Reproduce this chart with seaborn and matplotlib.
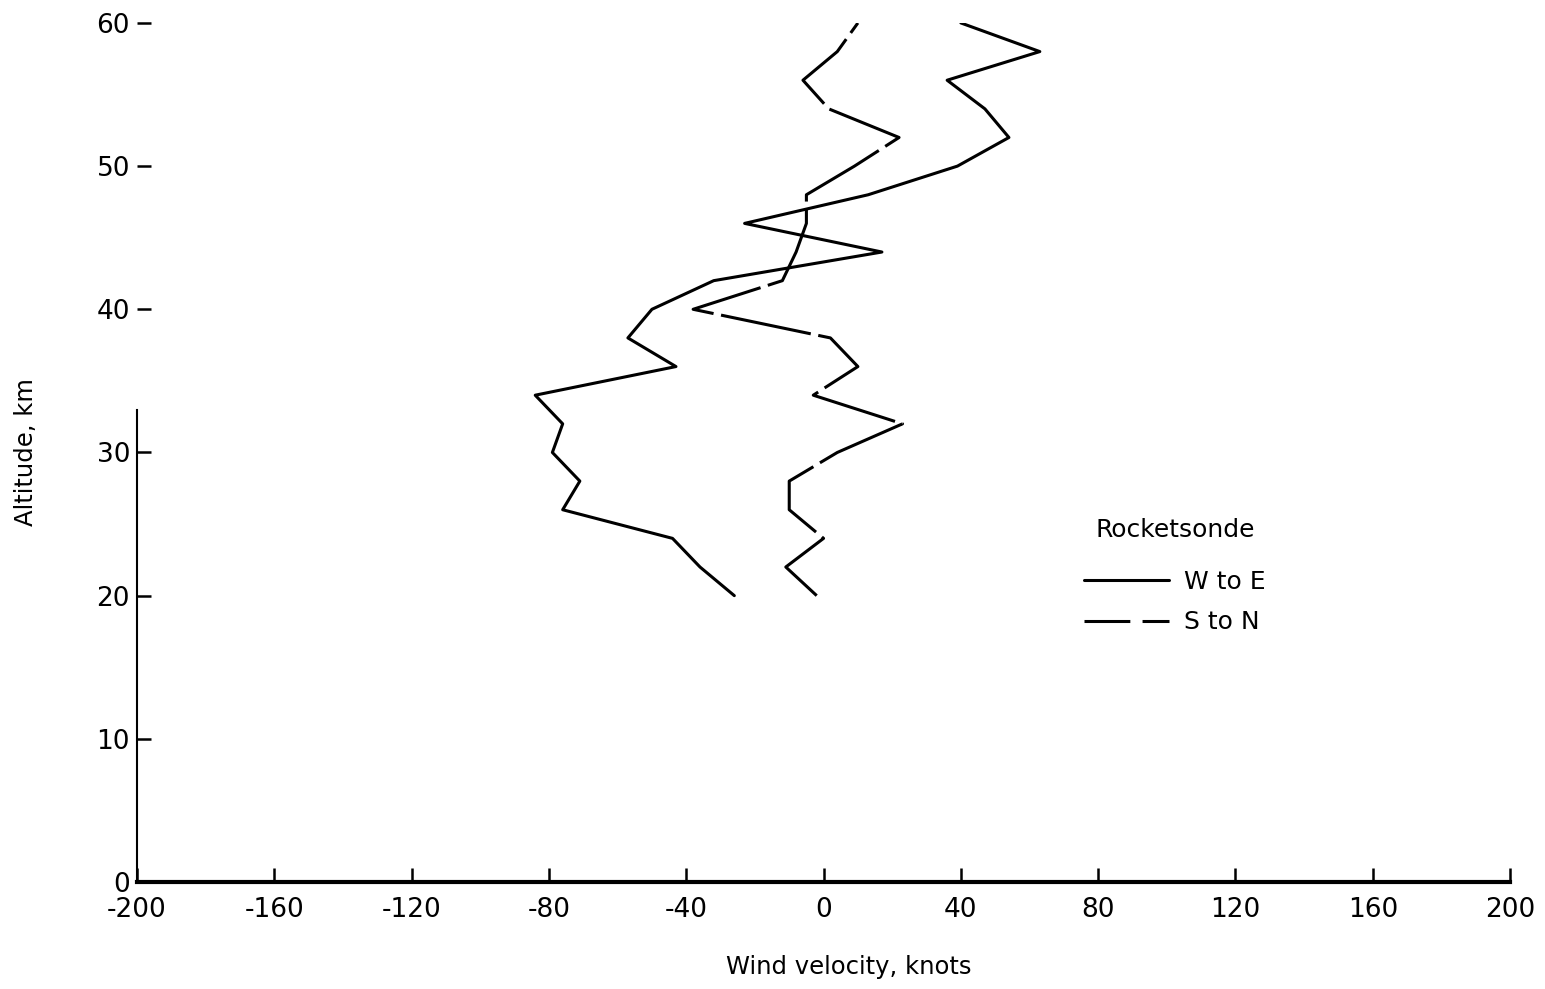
import matplotlib
matplotlib.use("Agg")
import matplotlib.pyplot as plt
from matplotlib.lines import Line2D
import seaborn as sns
import pandas as pd

# Rocketsonde wind profile, altitude every 2 km from 20 to 60 km
altitude_km = [20, 22, 24, 26, 28, 30, 32, 34, 36, 38, 40,
               42, 44, 46, 48, 50, 52, 54, 56, 58, 60]
w_to_e = [-26, -36, -44, -76, -71, -79, -76, -84, -43, -57, -50,
          -32, 17, -23, 13, 39, 54, 47, 36, 63, 40]
s_to_n = [-2, -11, 0, -10, -10, 4, 23, -3, 10, 2, -38,
          -12, -8, -5, -5, 9, 22, 1.5, -6, 4, 10]

series_names = ["W to E", "S to N"]
legend_title = "Rocketsonde"
x_ticks = [-200, -160, -120, -80, -40, 0, 40, 80, 120, 160, 200]
y_ticks = [0, 10, 20, 30, 40, 50, 60]

df = pd.DataFrame({
    "altitude": altitude_km * 2,
    "velocity": w_to_e + s_to_n,
    "component": [series_names[0]] * len(altitude_km) + [series_names[1]] * len(altitude_km),
})

sns.set_theme(style="white")
plt.rcParams["font.family"] = ["DejaVu Sans"]
plt.rcParams["axes.unicode_minus"] = False
plt.rcParams["text.color"] = "black"
plt.rcParams["axes.labelcolor"] = "black"

fig = plt.figure(figsize=(15.45, 9.89), dpi=100)
ax = fig.add_axes([0.0887, 0.1082, 0.8887, 0.8686])

sns.lineplot(
    data=df, x="velocity", y="altitude", hue="component", style="component",
    palette={series_names[0]: "black", series_names[1]: "black"},
    dashes={series_names[0]: "", series_names[1]: (30, 2.5)},
    orient="y", sort=False, estimator=None, linewidth=2.2, legend=False, ax=ax,
)

ax.set_xlim(-200, 200)
ax.set_ylim(0, 60)
ax.set_xticks(x_ticks)
ax.set_yticks(y_ticks)
ax.tick_params(axis="both", direction="in", colors="black", labelcolor="black",
               labelsize=19, length=10, width=1.8, left=True, bottom=True)
ax.tick_params(axis="x", pad=11)
ax.tick_params(axis="y", pad=5)

for side in ("top", "right"):
    ax.spines[side].set_visible(False)
ax.spines["bottom"].set_linewidth(3)
ax.spines["bottom"].set_color("black")
ax.spines["left"].set_linewidth(1.5)
ax.spines["left"].set_color("black")
ax.spines["left"].set_bounds(0, 33)

ax.set_xlabel("Wind velocity, knots", fontsize=17.5)
ax.set_ylabel("Altitude, km", fontsize=17.5)
ax.xaxis.set_label_coords(0.518, -0.085)
ax.yaxis.set_label_coords(-0.072, 0.5)

# Legend: title placed above a frameless key
fig.text(0.7605, 0.4641, legend_title, ha="center", va="center", fontsize=18)
handles = [
    Line2D([], [], color="black", linewidth=2.2, linestyle="-"),
    Line2D([], [], color="black", linewidth=2.2, linestyle=(0, (15, 4))),
]
fig.legend(
    handles, series_names, loc="center",
    bbox_to_anchor=(0.7605, 0.391), frameon=False, fontsize=18,
    handlelength=3.4, handletextpad=0.6, labelspacing=0.65,
)

fig.savefig("out.png", dpi=100)
